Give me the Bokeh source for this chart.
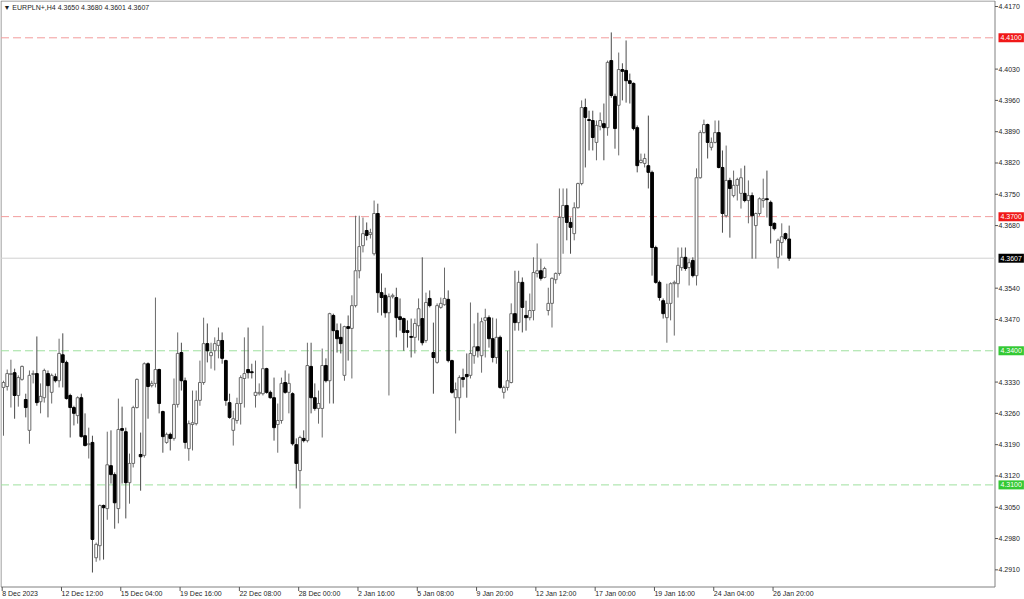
from bokeh.plotting import figure
from bokeh.models import ColumnDataSource, Label, Range1d
from bokeh.core.properties import value
from bokeh.embed import file_html
from bokeh.resources import INLINE
import numpy as np

symbol = "EURPLN+,H4"

opens = [4.3318, 4.3320, 4.3347, 4.3351, 4.3300, 4.3336, 4.3291, 4.3222, 4.3347, 4.3349,
         4.3286, 4.3295, 4.3349, 4.3307, 4.3342, 4.3333, 4.3391, 4.3374, 4.3300, 4.3273,
         4.3255, 4.3295, 4.3210, 4.3190, 4.3195, 4.2937, 4.2964, 4.3054, 4.3047, 4.3143,
         4.3123, 4.3047, 4.3226, 4.3219, 4.3105, 4.3148, 4.3273, 4.3168, 4.3166, 4.3371,
         4.3322, 4.3327, 4.3358, 4.3264, 4.3195, 4.3213, 4.3204, 4.3280, 4.3396, 4.3333,
         4.3181, 4.3235, 4.3237, 4.3289, 4.3329, 4.3416, 4.3389, 4.3400, 4.3412, 4.3423,
         4.3378, 4.3284, 4.3222, 4.3244, 4.3282, 4.3338, 4.3358, 4.3353, 4.3300, 4.3304,
         4.3304, 4.3360, 4.3307, 4.3295, 4.3235, 4.3244, 4.3329, 4.3307, 4.3304, 4.3190,
         4.3132, 4.3204, 4.3199, 4.3365, 4.3295, 4.3271, 4.3271, 4.3367, 4.3333, 4.3479,
         4.3445, 4.3430, 4.3345, 4.3454, 4.3450, 4.3501, 4.3579, 4.3635, 4.3669, 4.3660,
         4.3617, 4.3707, 4.3530, 4.3524, 4.3485, 4.3521, 4.3519, 4.3476, 4.3472, 4.3445,
         4.3432, 4.3430, 4.3456, 4.3472, 4.3423, 4.3517, 4.3396, 4.3374, 4.3497, 4.3503,
         4.3515, 4.3378, 4.3295, 4.3295, 4.3340, 4.3347, 4.3345, 4.3389, 4.3409, 4.3389,
         4.3468, 4.3474, 4.3427, 4.3385, 4.3430, 4.3307, 4.3318, 4.3329, 4.3483, 4.3463,
         4.3553, 4.3479, 4.3474, 4.3490, 4.3573, 4.3579, 4.3564, 4.3490, 4.3506, 4.3559,
         4.3573, 4.3698, 4.3725, 4.3687, 4.3662, 4.3720, 4.3774, 4.3944, 4.3917, 4.3915,
         4.3866, 4.3902, 4.3908, 4.3899, 4.4049, 4.3969, 4.3949, 4.4029, 4.4027, 4.4004,
         4.3998, 4.3899, 4.3821, 4.3819, 4.3814, 4.3799, 4.3631, 4.3553, 4.3512, 4.3474,
         4.3506, 4.3550, 4.3550, 4.3586, 4.3609, 4.3586, 4.3602, 4.3568, 4.3787, 4.3888,
         4.3906, 4.3855, 4.3866, 4.3888, 4.3810, 4.3702, 4.3781, 4.3747, 4.3770, 4.3752,
         4.3752, 4.3736, 4.3747, 4.3680, 4.3707, 4.3736, 4.3740, 4.3732, 4.3685, 4.3609,
         4.3642, 4.3662, 4.3650]

highs = [4.3333, 4.3358, 4.3380, 4.3360, 4.3345, 4.3367, 4.3304, 4.3356, 4.3356, 4.3432,
         4.3327, 4.3360, 4.3356, 4.3349, 4.3349, 4.3427, 4.3439, 4.3378, 4.3304, 4.3277,
         4.3298, 4.3304, 4.3260, 4.3228, 4.3210, 4.2971, 4.3056, 4.3056, 4.3219, 4.3222,
         4.3128, 4.3293, 4.3275, 4.3228, 4.3170, 4.3277, 4.3338, 4.3217, 4.3374, 4.3374,
         4.3333, 4.3519, 4.3360, 4.3266, 4.3217, 4.3217, 4.3338, 4.3441, 4.3418, 4.3340,
         4.3244, 4.3311, 4.3311, 4.3378, 4.3474, 4.3461, 4.3418, 4.3430, 4.3452, 4.3441,
         4.3380, 4.3304, 4.3266, 4.3295, 4.3345, 4.3430, 4.3452, 4.3371, 4.3378, 4.3327,
         4.3456, 4.3362, 4.3311, 4.3340, 4.3282, 4.3340, 4.3356, 4.3349, 4.3307, 4.3204,
         4.3210, 4.3222, 4.3418, 4.3418, 4.3327, 4.3311, 4.3405, 4.3383, 4.3485, 4.3483,
         4.3461, 4.3461, 4.3456, 4.3479, 4.3524, 4.3702, 4.3702, 4.3698, 4.3687, 4.3673,
         4.3736, 4.3729, 4.3573, 4.3541, 4.3528, 4.3528, 4.3541, 4.3517, 4.3474, 4.3468,
         4.3472, 4.3472, 4.3517, 4.3609, 4.3530, 4.3535, 4.3463, 4.3506, 4.3519, 4.3586,
         4.3535, 4.3380, 4.3329, 4.3345, 4.3360, 4.3394, 4.3508, 4.3461, 4.3485, 4.3474,
         4.3494, 4.3479, 4.3474, 4.3472, 4.3434, 4.3322, 4.3400, 4.3506, 4.3579, 4.3579,
         4.3564, 4.3512, 4.3528, 4.3609, 4.3640, 4.3606, 4.3588, 4.3541, 4.3564, 4.3575,
         4.3763, 4.3763, 4.3763, 4.3698, 4.3732, 4.3776, 4.3960, 4.3964, 4.3937, 4.3937,
         4.3915, 4.3933, 4.3953, 4.4049, 4.4112, 4.3975, 4.4067, 4.4043, 4.4094, 4.4020,
         4.4000, 4.3904, 4.3841, 4.3841, 4.3926, 4.3803, 4.3635, 4.3557, 4.3517, 4.3550,
         4.3553, 4.3557, 4.3631, 4.3631, 4.3631, 4.3606, 4.3609, 4.3808, 4.3893, 4.3917,
         4.3908, 4.3877, 4.3915, 4.3915, 4.3848, 4.3859, 4.3787, 4.3803, 4.3787, 4.3808,
         4.3814, 4.3781, 4.3754, 4.3709, 4.3743, 4.3785, 4.3803, 4.3736, 4.3687, 4.3651,
         4.3685, 4.3664, 4.3680]

lows = [4.3210, 4.3311, 4.3273, 4.3248, 4.3275, 4.3333, 4.3251, 4.3192, 4.3327, 4.3277,
        4.3260, 4.3284, 4.3251, 4.3282, 4.3329, 4.3318, 4.3318, 4.3291, 4.3206, 4.3233,
        4.3237, 4.3206, 4.3186, 4.3159, 4.2904, 4.2928, 4.2931, 4.2933, 4.3022, 4.3103,
        4.3002, 4.3014, 4.3103, 4.3025, 4.3058, 4.3139, 4.3271, 4.3087, 4.3161, 4.3248,
        4.3318, 4.3318, 4.3260, 4.3172, 4.3192, 4.3177, 4.3199, 4.3273, 4.3311, 4.3181,
        4.3154, 4.3177, 4.3233, 4.3277, 4.3324, 4.3374, 4.3360, 4.3356, 4.3383, 4.3371,
        4.3277, 4.3248, 4.3188, 4.3237, 4.3235, 4.3273, 4.3338, 4.3338, 4.3273, 4.3300,
        4.3300, 4.3304, 4.3293, 4.3199, 4.3172, 4.3237, 4.3304, 4.3260, 4.3188, 4.3092,
        4.3047, 4.3195, 4.3195, 4.3260, 4.3266, 4.3237, 4.3206, 4.3329, 4.3282, 4.3282,
        4.3396, 4.3394, 4.3333, 4.3378, 4.3338, 4.3497, 4.3562, 4.3620, 4.3647, 4.3651,
        4.3613, 4.3485, 4.3479, 4.3474, 4.3300, 4.3517, 4.3430, 4.3445, 4.3400, 4.3407,
        4.3385, 4.3394, 4.3423, 4.3412, 4.3418, 4.3497, 4.3304, 4.3371, 4.3494, 4.3501,
        4.3374, 4.3304, 4.3215, 4.3244, 4.3318, 4.3295, 4.3338, 4.3371, 4.3385, 4.3351,
        4.3385, 4.3407, 4.3374, 4.3371, 4.3315, 4.3293, 4.3311, 4.3327, 4.3445, 4.3445,
        4.3441, 4.3445, 4.3468, 4.3468, 4.3564, 4.3557, 4.3562, 4.3479, 4.3452, 4.3550,
        4.3568, 4.3617, 4.3647, 4.3617, 4.3647, 4.3718, 4.3770, 4.3810, 4.3848, 4.3848,
        4.3826, 4.3893, 4.3826, 4.3881, 4.3966, 4.3852, 4.3837, 4.3960, 4.3955, 4.3953,
        4.3893, 4.3799, 4.3819, 4.3810, 4.3763, 4.3568, 4.3550, 4.3512, 4.3472, 4.3418,
        4.3468, 4.3434, 4.3519, 4.3579, 4.3579, 4.3546, 4.3564, 4.3546, 4.3785, 4.3886,
        4.3830, 4.3848, 4.3864, 4.3808, 4.3664, 4.3698, 4.3653, 4.3743, 4.3736, 4.3718,
        4.3732, 4.3685, 4.3606, 4.3606, 4.3702, 4.3720, 4.3698, 4.3640, 4.3669, 4.3584,
        4.3613, 4.3647, 4.3601]

closes = [4.3329, 4.3349, 4.3349, 4.3300, 4.3340, 4.3365, 4.3273, 4.3345, 4.3349, 4.3284,
          4.3298, 4.3356, 4.3322, 4.3345, 4.3333, 4.3394, 4.3374, 4.3293, 4.3273, 4.3260,
          4.3295, 4.3208, 4.3188, 4.3192, 4.2978, 4.2967, 4.3054, 4.3049, 4.3145, 4.3123,
          4.3060, 4.3224, 4.3222, 4.3105, 4.3148, 4.3273, 4.3336, 4.3163, 4.3371, 4.3320,
          4.3327, 4.3358, 4.3282, 4.3208, 4.3213, 4.3204, 4.3280, 4.3394, 4.3333, 4.3195,
          4.3237, 4.3239, 4.3289, 4.3329, 4.3416, 4.3400, 4.3396, 4.3416, 4.3423, 4.3383,
          4.3289, 4.3251, 4.3248, 4.3282, 4.3340, 4.3349, 4.3351, 4.3351, 4.3307, 4.3307,
          4.3360, 4.3307, 4.3295, 4.3228, 4.3244, 4.3327, 4.3307, 4.3327, 4.3192, 4.3148,
          4.3206, 4.3199, 4.3367, 4.3295, 4.3271, 4.3282, 4.3367, 4.3333, 4.3483, 4.3445,
          4.3427, 4.3416, 4.3454, 4.3450, 4.3501, 4.3579, 4.3633, 4.3662, 4.3658, 4.3664,
          4.3707, 4.3530, 4.3519, 4.3485, 4.3521, 4.3524, 4.3474, 4.3470, 4.3441, 4.3441,
          4.3430, 4.3461, 4.3494, 4.3418, 4.3508, 4.3501, 4.3385, 4.3501, 4.3506, 4.3517,
          4.3378, 4.3307, 4.3313, 4.3340, 4.3336, 4.3342, 4.3394, 4.3409, 4.3400, 4.3465,
          4.3474, 4.3427, 4.3385, 4.3430, 4.3318, 4.3318, 4.3333, 4.3483, 4.3463, 4.3553,
          4.3497, 4.3474, 4.3490, 4.3575, 4.3579, 4.3562, 4.3584, 4.3506, 4.3562, 4.3573,
          4.3698, 4.3725, 4.3687, 4.3676, 4.3720, 4.3774, 4.3944, 4.3922, 4.3915, 4.3877,
          4.3904, 4.3915, 4.3899, 4.4045, 4.3971, 4.3897, 4.4029, 4.4025, 4.4004, 4.3998,
          4.3897, 4.3814, 4.3826, 4.3830, 4.3799, 4.3631, 4.3553, 4.3519, 4.3483, 4.3506,
          4.3550, 4.3553, 4.3591, 4.3609, 4.3584, 4.3597, 4.3568, 4.3787, 4.3888, 4.3906,
          4.3866, 4.3866, 4.3888, 4.3810, 4.3707, 4.3781, 4.3763, 4.3770, 4.3783, 4.3787,
          4.3736, 4.3747, 4.3702, 4.3707, 4.3740, 4.3740, 4.3738, 4.3680, 4.3673, 4.3647,
          4.3655, 4.3651, 4.3607]

x_tick_bars = [0, 16, 32, 48, 64, 80, 96, 112, 128, 144, 160, 176, 192, 208]
x_tick_labels = ["8 Dec 2023", "12 Dec 12:00", "15 Dec 04:00", "19 Dec 16:00", "22 Dec 08:00",
                 "28 Dec 00:00", "2 Jan 16:00", "5 Jan 08:00", "9 Jan 20:00", "12 Jan 12:00",
                 "17 Jan 00:00", "19 Jan 16:00", "24 Jan 04:00", "26 Jan 20:00"]

y_ticks = [4.4170, 4.4100, 4.4030, 4.3960, 4.3890, 4.3820, 4.3750, 4.3680, 4.3610, 4.3540,
           4.3470, 4.3400, 4.3330, 4.3260, 4.3190, 4.3120, 4.3050, 4.2980, 4.2910]

levels = [4.4100, 4.3700, 4.3400, 4.3100]
level_kinds = ["resistance", "resistance", "support", "support"]

# ---------------- layout / styling ----------------
W, H = 1024, 599
FONT = "Liberation Sans"
FS = "7px"
TXT = "#1e1e1e"
line_col = {"resistance": "#f29c9c", "support": "#9fe09f"}
box_col = {"resistance": "#f01818", "support": "#34c934"}
GRID_COL = "#808080"

BAR_PX, BAR0_PX = 3.706, 3.0          # pixel pitch of bars and centre of first bar
PX_PER_UNIT, REF_PX, REF_PRICE = 4471.0, 6.0, 4.4170
FRAME_R, FRAME_B = 994.5, 586.5       # chart pane right / bottom edge (px)


def xd(px):
    return (px - BAR0_PX) / BAR_PX


def yd(py):
    return REF_PRICE - (py - REF_PX) / PX_PER_UNIT


n = len(opens)
idx = np.arange(n)
o = np.array(opens); c = np.array(closes)
hi = np.array(highs); lo = np.array(lows)
bull = c >= o

src_bull = ColumnDataSource(dict(x=idx[bull], top=c[bull], bottom=o[bull], high=hi[bull], low=lo[bull]))
src_bear = ColumnDataSource(dict(x=idx[~bull], top=o[~bull], bottom=c[~bull], high=hi[~bull], low=lo[~bull]))

p = figure(width=W, height=H, output_backend="svg", toolbar_location=None,
           x_range=Range1d(xd(0), xd(W)), y_range=Range1d(yd(H), yd(0)),
           min_border=0, styles={"margin": "0px -16px -16px 0px"})
p.axis.visible = False
p.grid.visible = False
p.outline_line_color = None
p.background_fill_color = "white"
p.border_fill_color = "white"

# chart pane border
p.segment(x0=[xd(0.5), xd(0.5), xd(FRAME_R), xd(0.5)],
          y0=[yd(0.5), yd(FRAME_B), yd(0.5), yd(0.5)],
          x1=[xd(0.5), xd(FRAME_R), xd(FRAME_R), xd(FRAME_R)],
          y1=[yd(FRAME_B), yd(FRAME_B), yd(FRAME_B), yd(0.5)],
          line_color=GRID_COL, line_width=1)

# level lines and current price line (stop at the price scale)
lv_src = ColumnDataSource(dict(y=levels, color=[line_col[k] for k in level_kinds]))
p.segment(x0=xd(0.5), x1=xd(FRAME_R), y0="y", y1="y", source=lv_src,
          line_color="color", line_dash="8 4", line_width=1)
last = closes[-1]
p.segment(x0=[xd(0.5)], x1=[xd(FRAME_R)], y0=[last], y1=[last], line_color="#d0d0d0", line_width=1)

# candles
p.segment(x0="x", y0="low", x1="x", y1="high", source=src_bull, line_color="#6a6a6a", line_width=1)
p.segment(x0="x", y0="low", x1="x", y1="high", source=src_bear, line_color="#4a4a4a", line_width=1)
p.vbar(x="x", width=0.75, top="top", bottom="bottom", source=src_bull,
       fill_color="white", line_color="#6a6a6a", line_width=1)
p.vbar(x="x", width=0.75, top="top", bottom="bottom", source=src_bear,
       fill_color="black", line_color="black", line_width=1)

# price scale (right)
shown = [t for t in y_ticks if min(abs(t - l) for l in levels + [last]) >= 0.0012]
p.segment(x0=xd(FRAME_R), x1=xd(FRAME_R + 3), y0=shown, y1=shown, line_color="#555555", line_width=1)
p.text(x=xd(998), y=shown, text=[f"{t:.4f}" for t in shown], text_align="left",
       text_baseline="middle", text_font=value(FONT), text_font_size=value(FS), text_color=TXT)

# time scale (bottom), labels start at their tick
tick_x = [b - 0.35 for b in x_tick_bars]
p.segment(x0=tick_x, x1=tick_x, y0=yd(FRAME_B), y1=yd(FRAME_B + 4), line_color="#555555", line_width=1)
p.text(x=tick_x, y=yd(589), text=x_tick_labels, text_align="left", text_baseline="top",
       text_font=value(FONT), text_font_size=value(FS), text_color=TXT)

# price boxes on the right scale
for lv, kind in zip(levels, level_kinds):
    p.add_layout(Label(x=998, y=lv, x_units="screen", y_units="data", text=f"{lv:.4f}",
                       text_align="left", text_baseline="middle", text_font=FONT,
                       text_font_size=FS, text_color="white",
                       background_fill_color=box_col[kind], padding=2))
p.add_layout(Label(x=998, y=last, x_units="screen", y_units="data", text=f"{last:.4f}",
                   text_align="left", text_baseline="middle", text_font=FONT,
                   text_font_size=FS, text_color="white",
                   background_fill_color="black", padding=2))

# header
title = "\u25BC " + symbol + "  " + " ".join(f"{v:.4f}" for v in (opens[-1], highs[-1], lows[-1], closes[-1]))
p.add_layout(Label(x=3, y=H - 3, x_units="screen", y_units="screen", text=title,
                   text_align="left", text_baseline="top", text_font=FONT,
                   text_font_size=FS, text_color=TXT))

open("out.html", "w").write(file_html(p, INLINE))
